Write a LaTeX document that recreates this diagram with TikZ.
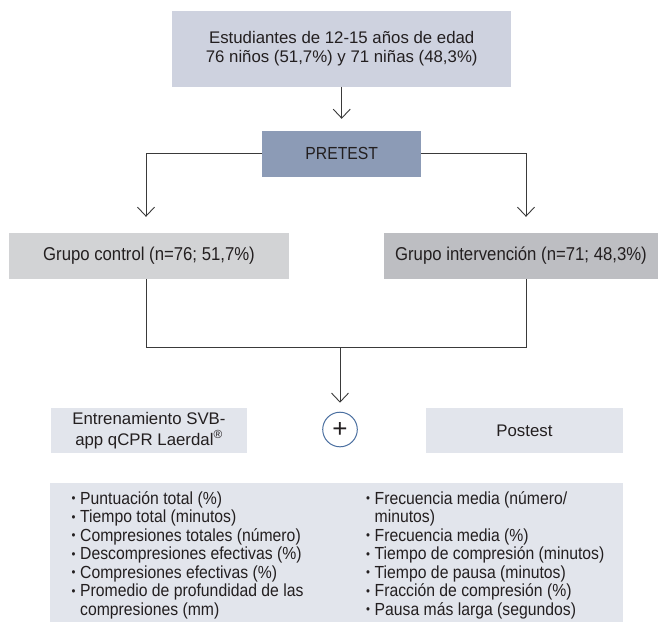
\documentclass[tikz,border=0pt]{standalone}
\usepackage{fontspec}
\setmainfont{Liberation Sans}
\newfontfamily\cond[FakeStretch=0.9]{Liberation Sans}
\usetikzlibrary{arrows.meta}
\definecolor{topc}{HTML}{CED2DF}
\definecolor{prec}{HTML}{8C9BB6}
\definecolor{ctrlc}{HTML}{D2D3D5}
\definecolor{intvc}{HTML}{BDBEC2}
\definecolor{lightc}{HTML}{E2E5EC}
\definecolor{linec}{HTML}{3A3A3A}
\definecolor{txt}{HTML}{231F20}
\definecolor{circc}{HTML}{4A6FA0}
\newcommand\mybul{\makebox[8.5pt][l]{\raisebox{1.4pt}{\fontsize{12.5}{12.5}\selectfont •}}}
\newcommand\mynob{\hspace*{8.5pt}}
\begin{document}
\begin{tikzpicture}[x=1pt,y=-1pt,
 box/.style={draw=none, inner sep=0pt, text=txt, align=center},
 conn/.style={draw=linec, line width=0.9pt},
 arr/.style={conn, -{Straight Barb[length=9pt,width=17pt,line width=0.9pt]}},
 itm/.style={anchor=base west, inner sep=0pt, text=txt, font=\cond\fontsize{17.5}{18.5}\selectfont}
]
\useasboundingbox (0,0) rectangle (658,624);
\fill[white] (0,0) rectangle (658,624);

\node[box, fill=topc, minimum width=339.5pt, minimum height=75.7pt, font=\fontsize{16.8}{18.5}\selectfont] (top) at (341.7,48.85) {Estudiantes de 12-15 años de edad\\76 niños (51,7\%) y 71 niñas (48,3\%)};
\node[box, fill=prec, minimum width=159pt, minimum height=45.7pt, font=\cond\fontsize{17.5}{20}\selectfont] (pre) at (341.7,153.85) {PRETEST};
\node[box, fill=ctrlc, minimum width=280pt, minimum height=46.3pt, font=\cond\fontsize{18.6}{20}\selectfont] (ctrl) at (149,255.85) {Grupo control (n=76; 51,7\%)};
\node[box, fill=intvc, minimum width=274pt, minimum height=46.3pt, font=\cond\fontsize{18.6}{20}\selectfont] (intv) at (521,255.85) {Grupo intervención (n=71; 48,3\%)};
\node[box, fill=lightc, minimum width=196.3pt, minimum height=45pt, font=\fontsize{16.8}{20.5}\selectfont] (train) at (149,430.5) {Entrenamiento SVB-\\app qCPR Laerdal\textsuperscript{®}};
\node[box, fill=lightc, minimum width=196.7pt, minimum height=45pt, font=\fontsize{16.8}{20}\selectfont] (post) at (524.4,430.5) {Postest};
\node[circle, draw=circc, line width=1pt, fill=white, minimum size=34.6pt, inner sep=0pt, text=txt, font=\fontsize{26}{26}\selectfont] (plus) at (340,429.5) {+};
\node[box, fill=lightc, minimum width=573pt, minimum height=139pt] (meas) at (336.5,552.5) {};

\coordinate (jl) at (146,347);
\coordinate (jr) at (526,347);
\coordinate (jm) at (340,347);

\draw[arr, shorten >=12pt] (top.south) -- (pre.north);
\draw[arr, shorten >=15.7pt] (pre.west) -| (ctrl.north -| jl);
\draw[arr, shorten >=15.7pt] (pre.east) -| (intv.north -| jr);
\draw[conn] (ctrl.south -| jl) -- (jl) -- (jr) -- (intv.south -| jr);
\draw[arr, shorten >=9pt] (jm) -- (plus.north);

\node[itm] (l1) at (71.5,504) {\mybul Puntuación total (\%)};
\node[itm] (l2) at (71.5,522.5) {\mybul Tiempo total (minutos)};
\node[itm] (l3) at (71.5,541) {\mybul Compresiones totales (número)};
\node[itm] (l4) at (71.5,559.5) {\mybul Descompresiones efectivas (\%)};
\node[itm] (l5) at (71.5,578) {\mybul Compresiones efectivas (\%)};
\node[itm] (l6) at (71.5,596.5) {\mybul Promedio de profundidad de las};
\node[itm] (l7) at (71.5,615) {\mynob compresiones (mm)};

\node[itm] (r1) at (366,504) {\mybul Frecuencia media (número/};
\node[itm] (r2) at (366,522.5) {\mynob minutos)};
\node[itm] (r3) at (366,541) {\mybul Frecuencia media (\%)};
\node[itm] (r4) at (366,559.5) {\mybul Tiempo de compresión (minutos)};
\node[itm] (r5) at (366,578) {\mybul Tiempo de pausa (minutos)};
\node[itm] (r6) at (366,596.5) {\mybul Fracción de compresión (\%)};
\node[itm] (r7) at (366,615) {\mybul Pausa más larga (segundos)};
\end{tikzpicture}
\end{document}
